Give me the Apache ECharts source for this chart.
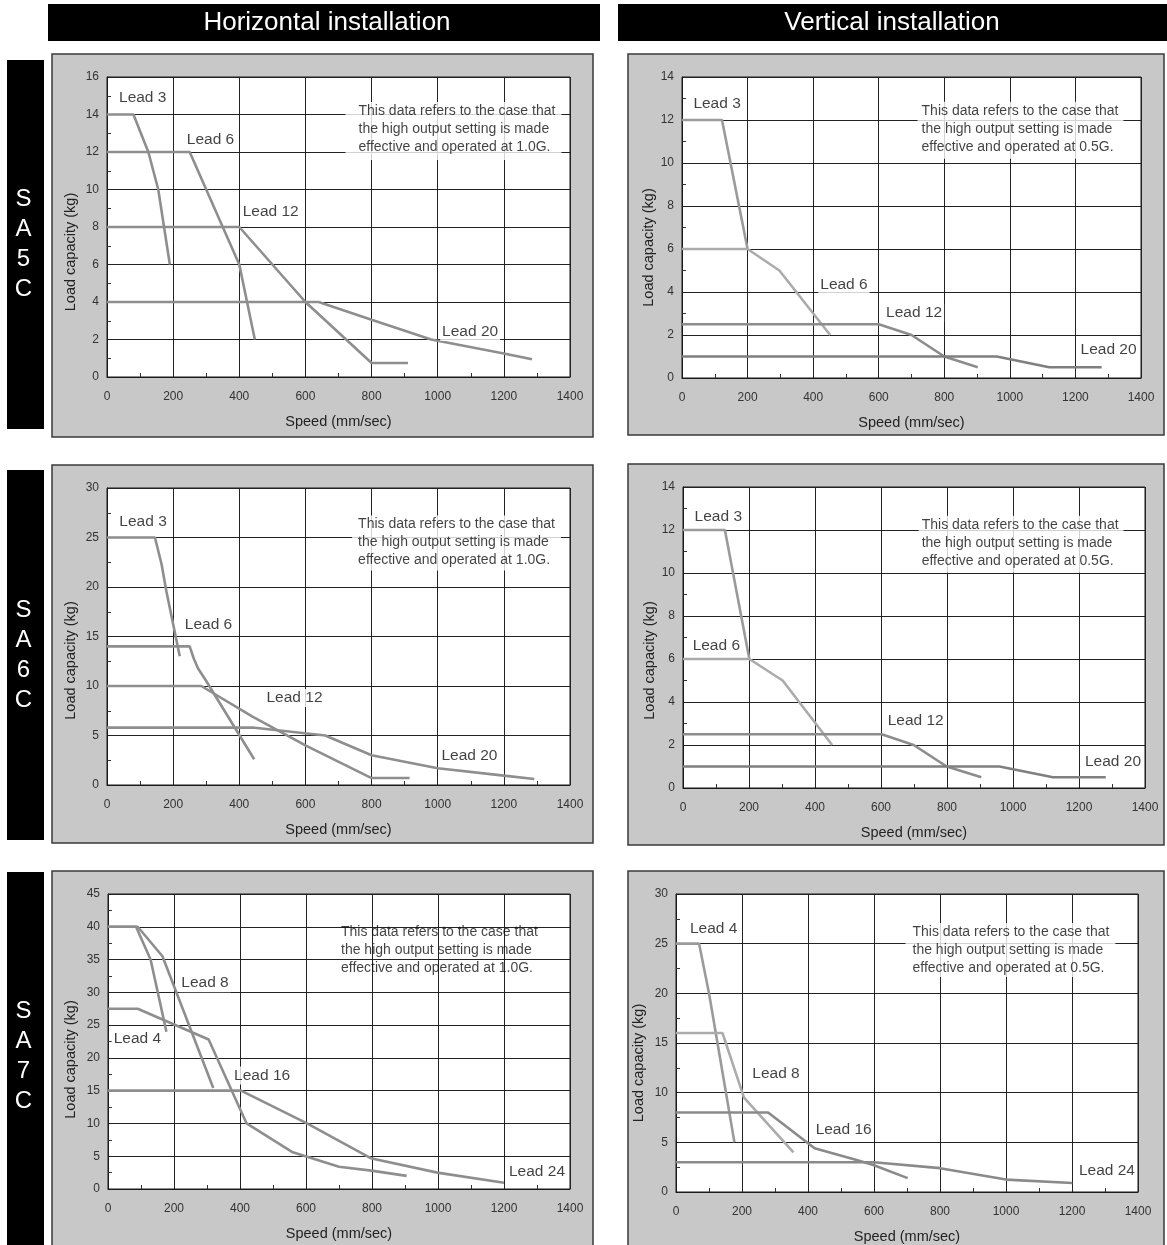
<!DOCTYPE html>
<html><head><meta charset="utf-8">
<script src="https://cdn.jsdelivr.net/npm/echarts@6/dist/echarts.min.js"></script>
<style>html,body{margin:0;padding:0;background:#fff}#c{width:1167px;height:1245px}</style>
</head><body><div id="c"></div>
<script>
// ---------- DATA : [speed (mm/s), load (kg)] ----------
// SA5C horizontal
const h5_lead3  = [[0,14],[80,14],[125,12],[155,10],[190,6]];
const h5_lead6  = [[0,12],[250,12],[400,6],[447,2]];
const h5_lead12 = [[0,8],[400,8],[600,4],[800,0.75],[910,0.75]];
const h5_lead20 = [[0,4],[640,4],[800,3.05],[980,2],[1200,1.25],[1285,0.95]];
// SA5C vertical
const v5_lead3  = [[0,12],[122,12],[200,6]];
const v5_lead6  = [[0,6],[200,6],[297,5],[452,2]];
const v5_lead12 = [[0,2.5],[600,2.5],[700,2],[800,1],[902,0.5]];
const v5_lead20 = [[0,1],[960,1],[1120,0.5],[1280,0.5]];
// SA6C horizontal
const h6_lead3  = [[0,25],[145,25],[165,22.3],[180,19.5],[220,13]];
const h6_lead6  = [[0,14],[250,14],[262,12.8],[275,11.8],[300,10.5],[445,2.6]];
const h6_lead12 = [[0,10],[285,10],[440,6.9],[600,4],[800,0.7],[915,0.7]];
const h6_lead20 = [[0,5.8],[440,5.8],[660,5],[800,3],[1000,1.7],[1200,0.95],[1292,0.6]];
// SA6C vertical
const v6_lead3  = [[0,12],[127,12],[201,6]];
const v6_lead6  = [[0,6],[201,6],[302,5],[452,2]];
const v6_lead12 = [[0,2.5],[602,2.5],[699,2],[799,1],[904,0.5]];
const v6_lead20 = [[0,1],[959,1],[1121,0.5],[1281,0.5]];
// SA7C horizontal
const h7_lead4  = [[0,40],[85,40],[129,35],[177,24]];
const h7_lead8  = [[0,40],[90,40],[165,35.5],[319,15.4]];
const h7_lead16 = [[0,27.5],[90,27.5],[305,22.8],[420,10],[560,5.6],[700,3.4],[798,2.8],[905,2]];
const h7_lead24 = [[0,15],[403,15],[603,10],[796,4.7],[998,2.5],[1200,0.95]];
// SA7C vertical
const v7_lead4  = [[0,25],[70,25],[100,20],[177,5]];
const v7_lead8  = [[0,16],[141,16],[206,9.5],[356,4]];
const v7_lead16 = [[0,8],[279,8],[420,4.4],[550,3.2],[600,2.7],[702,1.4]];
const v7_lead24 = [[0,3],[599,3],[800,2.4],[1000,1.25],[1201,0.9]];

// curve labels: [text, speed, kg]
const h5_labels = [['Lead 3',108,14.88],['Lead 6',313,12.64],['Lead 12',495,8.8],['Lead 20',1098,2.4]];
const v5_labels = [['Lead 3',107,12.76],['Lead 6',494,4.33],['Lead 12',708,3.02],['Lead 20',1301,1.30]];
const h6_labels = [['Lead 3',109,26.63],['Lead 6',307,16.24],['Lead 12',567,8.78],['Lead 20',1096,2.93]];
const v6_labels = [['Lead 3',107,12.6],['Lead 6',101,6.6],['Lead 12',705,3.12],['Lead 20',1303,1.21]];
const h7_labels = [['Lead 8',294,31.4],['Lead 4',89,22.9],['Lead 16',467,17.3],['Lead 24',1300,2.65]];
const v7_labels = [['Lead 4',114,26.5],['Lead 8',303,11.9],['Lead 16',508,6.24],['Lead 24',1306,2.11]];

const noteH = ['This data refers to the case that','the high output setting is made','effective and operated at 1.0G.'];
const noteV = ['This data refers to the case that','the high output setting is made','effective and operated at 0.5G.'];

const xMax = 1400, xStep = 200;
const yMaxes = [16,14,30,14,45,30];
const ySteps = [2,2,5,2,5,5];
const headers = ['Horizontal installation','Vertical installation'];
const models = ['SA5C','SA6C','SA7C'];

// ---------- LAYOUT ----------
const FONT = 'Liberation Sans, Arial, sans-serif';
const GRIDS = [
  {left:107, top:77, width:463, height:300},
  {left:682, top:77, width:459, height:301},
  {left:107, top:488, width:463, height:297},
  {left:683, top:487, width:462, height:301},
  {left:108, top:894, width:462, height:295},
  {left:676, top:894, width:462, height:298}
];
const PANELS = [
  [52,54,541,383],[628,54,536,381],
  [52,465,541,378],[628,464,536,381],
  [52,871,541,380],[628,871,536,380]
];
const SIDEBARS = [[7,60,37,369],[7,470,37,370],[7,872,37,380]];
const H = ['#8e8e8e','#8e8e8e','#8e8e8e','#8e8e8e'];
const V = ['#9a9a9a','#ababab','#8c8c8c','#7f7f7f'];
const panelSeries = [
  {lines:[h5_lead3,h5_lead6,h5_lead12,h5_lead20], colors:H, labels:h5_labels, note:noteH, notePos:[722.7,14.64], notePad:[0,6,4,13], noteBg:true, yNameGap:29, yShift:25},
  {lines:[v5_lead3,v5_lead6,v5_lead12,v5_lead20], colors:V, labels:v5_labels, note:noteV, notePos:[720,12.83], notePad:[0,5,3,4], noteBg:true, yNameGap:26, yShift:20},
  {lines:[h6_lead3,h6_lead6,h6_lead12,h6_lead20], colors:H, labels:h6_labels, note:noteH, notePos:[742.7,27.16], notePad:[0,6,1,6], noteBg:true, yNameGap:29, yShift:24},
  {lines:[v6_lead3,v6_lead6,v6_lead12,v6_lead20], colors:V, labels:v6_labels, note:noteV, notePos:[715.7,12.64], notePad:[0,5,3,3], noteBg:true, yNameGap:26, yShift:23},
  {lines:[h7_lead4,h7_lead8,h7_lead16,h7_lead24], colors:H, labels:h7_labels, note:noteH, notePos:[707.6,40.5], notePad:[0,0,0,0], noteBg:false, yNameGap:30, yShift:18},
  {lines:[v7_lead4,v7_lead8,v7_lead16,v7_lead24], colors:['#9a9a9a','#ababab','#8a8a8a','#8a8a8a'], labels:v7_labels, note:noteV, notePos:[697,27.03], notePad:[0,6,0,7], noteBg:true, yNameGap:30, yShift:20}
];

const plain = v => String(v);
const grid=[], xAxis=[], yAxis=[], series=[], elements=[];
GRIDS.forEach((g,i)=>{
  grid.push(Object.assign({show:true, backgroundColor:'#fff', borderColor:'#1a1a1a', borderWidth:1}, g));
  xAxis.push({gridIndex:i, type:'value', min:0, max:xMax, interval:xStep, z:3,
    name:'Speed (mm/sec)', nameLocation:'middle', nameGap:37,
    nameTextStyle:{fontFamily:FONT, fontSize:14.5, color:'#222'},
    axisLine:{show:true, lineStyle:{color:'#1a1a1a', width:1}},
    axisTick:{show:false, inside:true},
    minorTick:{show:true, splitNumber:2, length:4, lineStyle:{color:'#333', width:1}},
    axisLabel:{fontFamily:FONT, fontSize:12, color:'#333', margin:14, formatter:plain},
    splitLine:{show:true, lineStyle:{color:'#222', width:1}}
  });
  const ps = panelSeries[i];
  yAxis.push({gridIndex:i, type:'value', min:0, max:yMaxes[i], interval:ySteps[i], z:3,
    name:'Load capacity (kg)', nameLocation:'middle', nameGap:ps.yNameGap,
    nameTextStyle:{fontFamily:FONT, fontSize:14.5, color:'#222', padding:[0, ps.yShift*2, 0, 0]},
    axisLine:{show:true, lineStyle:{color:'#1a1a1a', width:1}},
    axisTick:{show:false, inside:true},
    minorTick:{show:true, splitNumber:2, length:4, lineStyle:{color:'#333', width:1}},
    axisLabel:{fontFamily:FONT, fontSize:12, color:'#333', margin:8, formatter:plain},
    splitLine:{show:true, lineStyle:{color:'#222', width:1}}
  });
  ps.lines.forEach((d,k)=>{
    series.push({type:'line', xAxisIndex:i, yAxisIndex:i, data:d, showSymbol:false, symbol:'none',
      lineStyle:{color:ps.colors[k], width:2.6}, z:5, silent:true, animation:false});
  });
  series.push({type:'scatter', xAxisIndex:i, yAxisIndex:i, symbolSize:1, z:7, silent:true, animation:false,
    itemStyle:{color:'rgba(0,0,0,0)'},
    data: ps.labels.map(l=>({name:l[0], value:[l[1], l[2]]})),
    label:{show:true, position:'inside', formatter:'{b}', fontFamily:FONT, fontSize:15.5, color:'#111',
      backgroundColor:'#fff', padding:[1,2,1,2]}
  });
  series.push({type:'scatter', xAxisIndex:i, yAxisIndex:i, symbolSize:1, z:7, silent:true, animation:false,
    itemStyle:{color:'rgba(0,0,0,0)'},
    data:[{name:ps.note.join('\n'), value:ps.notePos}],
    label:{show:true, position:[0,0], align:'left', verticalAlign:'top', formatter:'{b}',
      fontFamily:FONT, fontSize:14, lineHeight:18, color:'#111',
      backgroundColor: ps.noteBg ? '#fff' : 'transparent', padding:ps.notePad}
  });
});

// panel backgrounds
PANELS.forEach(p=>{
  elements.push({type:'rect', z:-10, shape:{x:p[0], y:p[1], width:p[2], height:p[3]},
    style:{fill:'#c8c8c8', stroke:'#3a3a3a', lineWidth:1.5}});
});
// headers
elements.push({type:'rect', z:-10, shape:{x:48, y:4, width:552, height:37}, style:{fill:'#000'}});
elements.push({type:'rect', z:-10, shape:{x:618, y:4, width:549, height:37}, style:{fill:'#000'}});
elements.push({type:'text', z:1, x:327, y:23, style:{text:headers[0], fill:'#fff', font:'26px '+FONT, textAlign:'center', textVerticalAlign:'middle'}});
elements.push({type:'text', z:1, x:892, y:23, style:{text:headers[1], fill:'#fff', font:'26px '+FONT, textAlign:'center', textVerticalAlign:'middle'}});
// side bars
SIDEBARS.forEach((s,i)=>{
  elements.push({type:'rect', z:-10, shape:{x:s[0], y:s[1], width:s[2], height:s[3]}, style:{fill:'#000'}});
  const y0 = (i===2) ? 1056 : s[1] + s[3]/2;
  elements.push({type:'text', z:1, x:23.5, y:y0, style:{text:models[i].split('').join('\n'), fill:'#fff',
    font:'24px '+FONT, lineHeight:30, textAlign:'center', textVerticalAlign:'middle'}});
});

const chart = echarts.init(document.getElementById('c'), null, {renderer:'canvas'});
chart.setOption({animation:false, grid, xAxis, yAxis, series, graphic:{elements}});
</script></body></html>
